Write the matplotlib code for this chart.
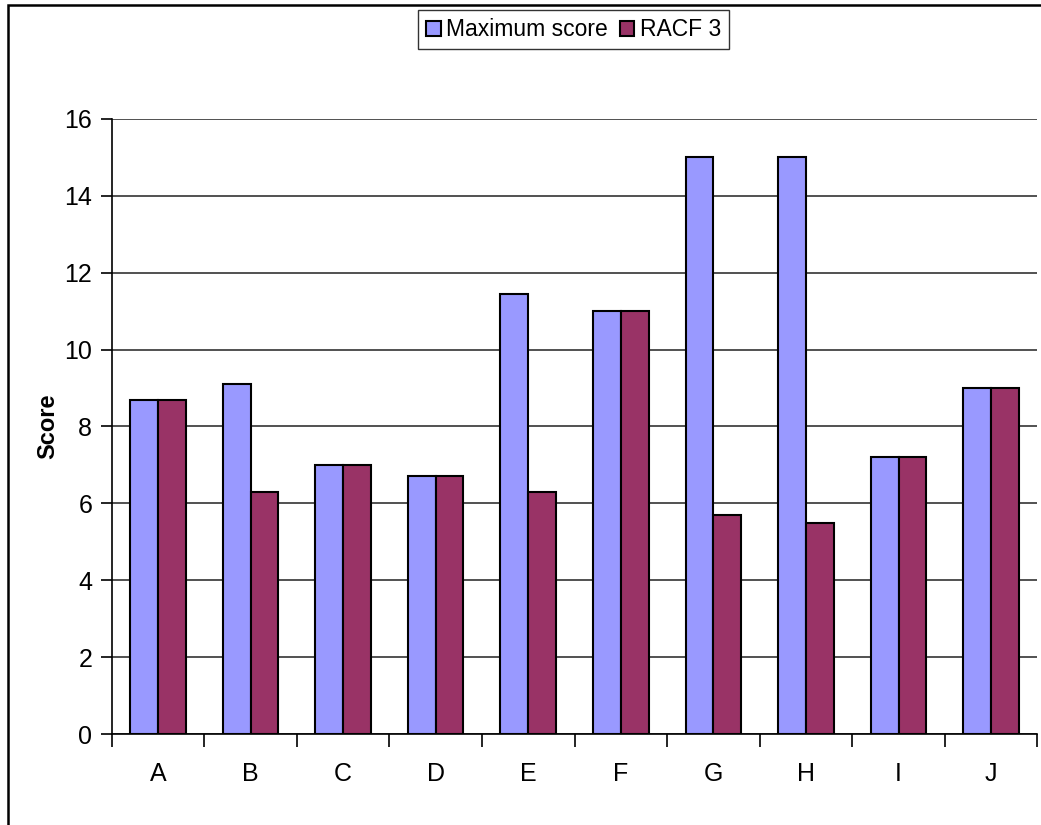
import numpy as np
import matplotlib.pyplot as plt
from matplotlib.patches import Rectangle

plt.rcParams['font.family'] = ['Liberation Sans', 'DejaVu Sans']

### Data ############################
categories = ['A', 'B', 'C', 'D', 'E', 'F', 'G', 'H', 'I', 'J']
max_score = [8.7, 9.1, 7.0, 6.7, 11.45, 11.0, 15.0, 15.0, 7.2, 9.0]
racf3 = [8.7, 6.3, 7.0, 6.7, 6.3, 11.0, 5.7, 5.5, 7.2, 9.0]
yticks = [0, 2, 4, 6, 8, 10, 12, 14, 16]
#####################################

fig = plt.figure(figsize=(10.41, 8.25), dpi=100)
ax = fig.add_axes([0.1073, 0.1103, 0.8892, 0.7455])

x = np.arange(len(categories))
w = 0.3
b1 = ax.bar(x - w / 2, max_score, w, color='#9999FF', edgecolor='black',
            linewidth=1.5, label='Maximum score', zorder=3)
b2 = ax.bar(x + w / 2, racf3, w, color='#993366', edgecolor='black',
            linewidth=1.5, label='RACF 3', zorder=3)

ax.set_xlim(-0.5, len(categories) - 0.5)
ax.set_ylim(0, 16)
ax.set_yticks(yticks)
ax.yaxis.grid(True, color='#333333', linewidth=1.2, zorder=0)

# tick marks between categories, labels at centers
ax.set_xticks(np.arange(-0.5, len(categories), 1.0))
ax.set_xticklabels([])
ax.set_xticks(x, minor=True)
ax.set_xticklabels(categories, minor=True)
ax.tick_params(axis='x', which='major', length=9, width=1.2, direction='out')
ax.tick_params(axis='x', which='minor', length=0, pad=20, labelsize=18)
ax.tick_params(axis='y', length=8, width=1.2, direction='out', labelsize=18, pad=6)

for s in ['top', 'right']:
    ax.spines[s].set_visible(False)
ax.spines['left'].set_linewidth(1.2)
ax.spines['bottom'].set_linewidth(1.2)

ax.set_ylabel('Score', fontsize=17, fontweight='bold', labelpad=4)

leg = fig.legend(handles=[b1, b2], loc='center', bbox_to_anchor=(0.551, 0.964),
                 ncol=2, fontsize=16.5, frameon=True, fancybox=False,
                 handlelength=0.65, handleheight=0.65, handletextpad=0.25,
                 columnspacing=0.5, borderpad=0.35)
leg.get_frame().set_edgecolor('black')
leg.get_frame().set_linewidth(1.0)

# outer chart frame
fig.add_artist(Rectangle((8 / 1041, -0.1), 1.1, 1 - 5 / 825 + 0.1, fill=False,
                         transform=fig.transFigure, linewidth=1.8, edgecolor='black'))

fig.savefig('out.png', dpi=100)
